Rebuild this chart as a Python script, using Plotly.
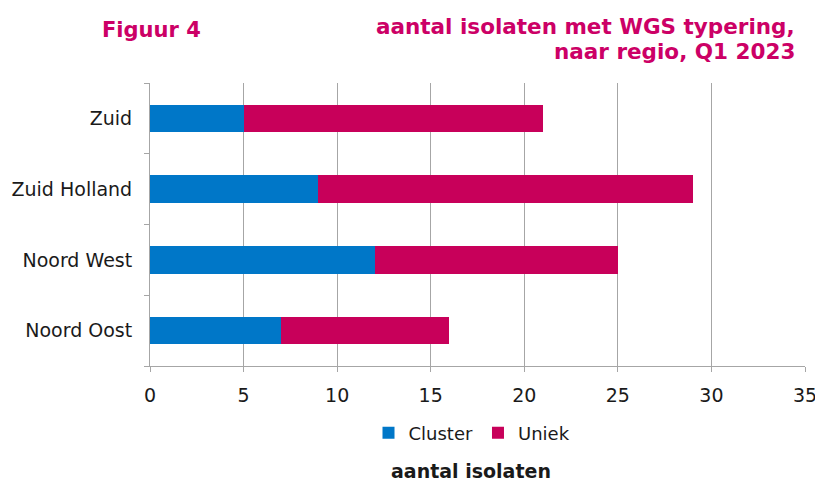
import plotly.graph_objects as go

regions = ["Noord Oost", "Noord West", "Zuid Holland", "Zuid"]
cluster = [7, 12, 9, 5]
uniek = [9, 13, 20, 16]
x_ticks = [0, 5, 10, 15, 20, 25, 30, 35]

BLUE = "#0077C8"
MAGENTA = "#C8005A"
TITLE = "#CC0066"
GRID = "#A6A6A6"
FONT = "DejaVu Sans"

W, H = 815, 482
ML, MR = 150, 815 - 805
MT, MB = 83, 482 - 366

fig = go.Figure()
fig.add_trace(go.Bar(y=regions, x=cluster, name="Cluster", orientation="h",
                     marker=dict(color=BLUE, line=dict(width=0))))
fig.add_trace(go.Bar(y=regions, x=uniek, name="Uniek", orientation="h",
                     marker=dict(color=MAGENTA, line=dict(width=0))))

plot_w = W - ML - MR
plot_h = H - MT - MB
def px(xp):
    return (xp - ML) / plot_w
def py(yp):
    return (H - MB - yp) / plot_h

fig.update_layout(
    width=W, height=H,
    barmode="stack", bargap=0.61,
    plot_bgcolor="white", paper_bgcolor="white",
    margin=dict(l=ML, r=MR, t=MT, b=MB, autoexpand=False),
    font=dict(family=FONT, size=18, color="#1a1a1a"),
    showlegend=True,
    legend=dict(orientation="h", x=px(472), xanchor="center", y=py(433), yanchor="middle",
                font=dict(size=18), itemwidth=30, traceorder="normal"),
    xaxis=dict(range=[0, 35], tickvals=x_ticks, showgrid=True, gridcolor=GRID,
               gridwidth=1, showline=True, linecolor=GRID, ticks="outside",
               tickcolor=GRID, ticklen=5, zeroline=False, automargin=False,
               tickfont=dict(size=19), ticklabelstandoff=7,
               ticklabeloverflow="allow"),
    yaxis=dict(showline=True, linecolor=GRID, ticks="outside", tickson="boundaries",
               tickcolor=GRID, ticklen=5, showgrid=False, tickfont=dict(size=19),
               ticklabelstandoff=13, automargin=False),
    annotations=[
        dict(text="<b>aantal isolaten</b>", x=px(471), y=py(471), xref="paper",
             yref="paper", showarrow=False, xanchor="center", yanchor="middle",
             font=dict(size=19, color="#1a1a1a", family=FONT)),
        dict(text="<b>Figuur 4</b>", x=px(100), y=py(30), xref="paper", yref="paper",
             showarrow=False, font=dict(size=21, color=TITLE, family=FONT),
             xanchor="left", yanchor="middle"),
        dict(text="<b>aantal isolaten met WGS typering,</b>",
             x=px(797), y=py(27), xref="paper", yref="paper", showarrow=False,
             xanchor="right", yanchor="middle", align="right",
             font=dict(size=21.5, color=TITLE, family=FONT)),
        dict(text="<b>naar regio, Q1 2023</b>",
             x=px(797), y=py(51), xref="paper", yref="paper", showarrow=False,
             xanchor="right", yanchor="middle", align="right",
             font=dict(size=21.5, color=TITLE, family=FONT)),
    ],
)

fig.write_html("out.html", config={"displayModeBar": False},
               post_script="document.body.style.margin='0';document.body.style.overflow='hidden';")
